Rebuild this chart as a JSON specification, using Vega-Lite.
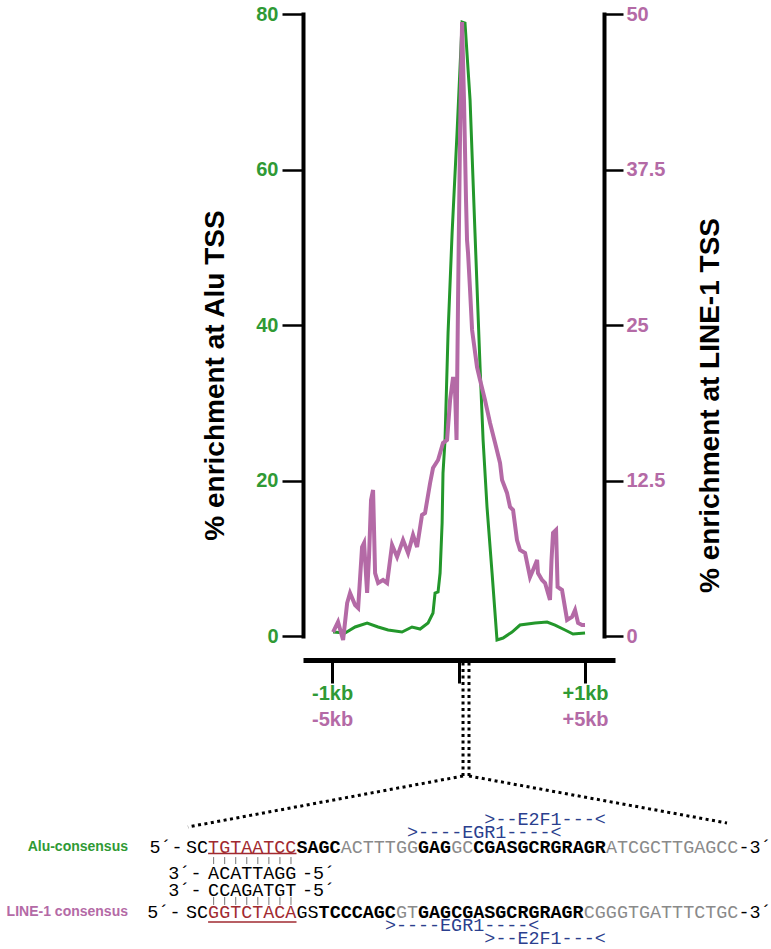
{
  "$schema": "https://vega.github.io/schema/vega-lite/v6.json",
  "width": 312,
  "height": 622,
  "autosize": {"type": "none"},
  "padding": {"left": 303, "top": 14, "right": 156, "bottom": 313},
  "background": "white",
  "config": {"view": {"stroke": null}, "font": "Liberation Sans"},
  "datasets": {
    "alu": [
      {"kb": -0.992, "v": 0.51}, {"kb": -0.897, "v": 0.39}, {"kb": -0.818, "v": 1.16}, {"kb": -0.723, "v": 1.67},
      {"kb": -0.636, "v": 1.16}, {"kb": -0.557, "v": 0.77}, {"kb": -0.447, "v": 0.51}, {"kb": -0.368, "v": 1.16},
      {"kb": -0.304, "v": 0.9}, {"kb": -0.241, "v": 1.67}, {"kb": -0.202, "v": 2.96}, {"kb": -0.186, "v": 5.53},
      {"kb": -0.162, "v": 5.66}, {"kb": -0.146, "v": 8.1}, {"kb": -0.13, "v": 14.53}, {"kb": -0.123, "v": 20.96},
      {"kb": -0.107, "v": 25.21}, {"kb": -0.083, "v": 38.97}, {"kb": -0.051, "v": 51.83}, {"kb": -0.012, "v": 64.69},
      {"kb": 0.028, "v": 78.97}, {"kb": 0.051, "v": 78.84}, {"kb": 0.091, "v": 68.94}, {"kb": 0.13, "v": 51.83},
      {"kb": 0.17, "v": 34.6}, {"kb": 0.194, "v": 25.21}, {"kb": 0.225, "v": 16.59}, {"kb": 0.265, "v": 8.1},
      {"kb": 0.304, "v": -0.51}, {"kb": 0.352, "v": -0.26}, {"kb": 0.423, "v": 0.51}, {"kb": 0.486, "v": 1.41},
      {"kb": 0.605, "v": 1.67}, {"kb": 0.7, "v": 1.8}, {"kb": 0.763, "v": 1.41}, {"kb": 0.842, "v": 0.77},
      {"kb": 0.905, "v": 0.26}, {"kb": 1.0, "v": 0.39}
    ],
    "line1": [
      {"kb": -0.992, "v": 0.32}, {"kb": -0.953, "v": 1.13}, {"kb": -0.913, "v": -0.32}, {"kb": -0.881, "v": 2.65},
      {"kb": -0.858, "v": 3.46}, {"kb": -0.818, "v": 2.49}, {"kb": -0.794, "v": 2.25}, {"kb": -0.763, "v": 7.15},
      {"kb": -0.747, "v": 7.48}, {"kb": -0.723, "v": 3.46}, {"kb": -0.708, "v": 6.35}, {"kb": -0.692, "v": 10.93},
      {"kb": -0.676, "v": 11.74}, {"kb": -0.66, "v": 5.06}, {"kb": -0.636, "v": 4.26}, {"kb": -0.597, "v": 4.5},
      {"kb": -0.565, "v": 4.26}, {"kb": -0.526, "v": 7.32}, {"kb": -0.486, "v": 6.35}, {"kb": -0.439, "v": 7.72},
      {"kb": -0.399, "v": 6.67}, {"kb": -0.36, "v": 8.12}, {"kb": -0.328, "v": 7.15}, {"kb": -0.289, "v": 9.73},
      {"kb": -0.265, "v": 9.89}, {"kb": -0.225, "v": 12.3}, {"kb": -0.202, "v": 13.5}, {"kb": -0.162, "v": 14.15},
      {"kb": -0.146, "v": 14.71}, {"kb": -0.123, "v": 15.51}, {"kb": -0.091, "v": 15.76}, {"kb": -0.067, "v": 18.97},
      {"kb": -0.043, "v": 20.82}, {"kb": -0.028, "v": 19.77}, {"kb": -0.016, "v": 15.76}, {"kb": -0.004, "v": 27.01},
      {"kb": 0.012, "v": 40.43}, {"kb": 0.028, "v": 49.36}, {"kb": 0.043, "v": 43.09}, {"kb": 0.059, "v": 35.05},
      {"kb": 0.067, "v": 31.83}, {"kb": 0.075, "v": 30.79}, {"kb": 0.091, "v": 27.81}, {"kb": 0.107, "v": 24.6},
      {"kb": 0.146, "v": 21.62}, {"kb": 0.17, "v": 20.58}, {"kb": 0.209, "v": 18.97}, {"kb": 0.249, "v": 17.12},
      {"kb": 0.289, "v": 15.51}, {"kb": 0.328, "v": 13.91}, {"kb": 0.344, "v": 12.54}, {"kb": 0.383, "v": 11.5},
      {"kb": 0.407, "v": 10.37}, {"kb": 0.431, "v": 10.13}, {"kb": 0.462, "v": 7.72}, {"kb": 0.486, "v": 6.91},
      {"kb": 0.526, "v": 6.67}, {"kb": 0.565, "v": 4.74}, {"kb": 0.589, "v": 5.31}, {"kb": 0.621, "v": 6.11},
      {"kb": 0.628, "v": 5.06}, {"kb": 0.66, "v": 4.5}, {"kb": 0.684, "v": 4.26}, {"kb": 0.723, "v": 2.89},
      {"kb": 0.735, "v": 6.11}, {"kb": 0.747, "v": 8.28}, {"kb": 0.771, "v": 8.52}, {"kb": 0.783, "v": 3.94},
      {"kb": 0.818, "v": 3.7}, {"kb": 0.858, "v": 1.29}, {"kb": 0.897, "v": 1.53}, {"kb": 0.921, "v": 2.09},
      {"kb": 0.945, "v": 1.05}, {"kb": 0.976, "v": 0.88}, {"kb": 1.0, "v": 0.88}
    ],
    "seq": [
      {"col": -3.3, "row": 2.04, "t": "5´-", "s": "n"},
      {"col": 0, "row": 2.04, "t": "SC", "s": "n"},
      {"col": 2, "row": 2.04, "t": "TGTAATCC", "s": "r"},
      {"col": 10, "row": 2.04, "t": "SAGC", "s": "b"},
      {"col": 14, "row": 2.04, "t": "ACTTTGG", "s": "g"},
      {"col": 21, "row": 2.04, "t": "GAG", "s": "b"},
      {"col": 24, "row": 2.04, "t": "GC", "s": "g"},
      {"col": 26, "row": 2.04, "t": "CGASGCRGRAGR", "s": "b"},
      {"col": 38, "row": 2.04, "t": "ATCGCTTGAGCC", "s": "g"},
      {"col": 50, "row": 2.04, "t": "-3´", "s": "n"},
      {"col": -1.6, "row": 3.93, "t": "3´-", "s": "n"},
      {"col": 2, "row": 3.93, "t": "ACATTAGG", "s": "n"},
      {"col": 10.5, "row": 3.93, "t": "-5´", "s": "n"},
      {"col": -1.6, "row": 5.14, "t": "3´-", "s": "n"},
      {"col": 2, "row": 5.14, "t": "CCAGATGT", "s": "n"},
      {"col": 10.5, "row": 5.14, "t": "-5´", "s": "n"},
      {"col": -3.5, "row": 6.71, "t": "5´-", "s": "n"},
      {"col": 0, "row": 6.71, "t": "SC", "s": "n"},
      {"col": 2, "row": 6.71, "t": "GGTCTACA", "s": "r"},
      {"col": 10, "row": 6.71, "t": "GS", "s": "n"},
      {"col": 12, "row": 6.71, "t": "TCCCAGC", "s": "b"},
      {"col": 19, "row": 6.71, "t": "GT", "s": "g"},
      {"col": 21, "row": 6.71, "t": "GAGCGASGCRGRAGR", "s": "b"},
      {"col": 36, "row": 6.71, "t": "CGGGTGATTTCTGC", "s": "g"},
      {"col": 50, "row": 6.71, "t": "-3´", "s": "n"},
      {"col": 27, "row": 0.07, "t": ">--E2F1---<", "s": "blue"},
      {"col": 20, "row": 1.0, "t": ">----EGR1----<", "s": "blue"},
      {"col": 18, "row": 7.64, "t": ">----EGR1----<", "s": "blue"},
      {"col": 27, "row": 8.57, "t": ">--E2F1---<", "s": "blue"},
      {"col": -5.25, "row": 2.04, "t": "Alu-consensus", "s": "alu"},
      {"col": -5.25, "row": 6.71, "t": "LINE-1 consensus", "s": "l1"}
    ],
    "ticks": [
      {"x": 2.5, "y": 2.79, "y2": 3.29}, {"x": 3.5, "y": 2.79, "y2": 3.29}, {"x": 4.5, "y": 2.79, "y2": 3.29}, {"x": 5.5, "y": 2.79, "y2": 3.29},
      {"x": 6.5, "y": 2.79, "y2": 3.29}, {"x": 7.5, "y": 2.79, "y2": 3.29}, {"x": 8.5, "y": 2.79, "y2": 3.29}, {"x": 9.5, "y": 2.79, "y2": 3.29},
      {"x": 2.5, "y": 5.64, "y2": 6.21}, {"x": 3.5, "y": 5.64, "y2": 6.21}, {"x": 4.5, "y": 5.64, "y2": 6.21}, {"x": 5.5, "y": 5.64, "y2": 6.21},
      {"x": 6.5, "y": 5.64, "y2": 6.21}, {"x": 7.5, "y": 5.64, "y2": 6.21}, {"x": 8.5, "y": 5.64, "y2": 6.21}, {"x": 9.5, "y": 5.64, "y2": 6.21}
    ],
    "uline": [
      {"x": 2, "x2": 10, "y": 2.54},
      {"x": 2, "x2": 10, "y": 7.43}
    ],
    "dots": [
      {"x": 25.07, "y": -11.1, "x2": 25.07, "y2": -3.0},
      {"x": 25.61, "y": -11.1, "x2": 25.61, "y2": -3.0},
      {"x": 25.07, "y": -3.0, "x2": 0.18, "y2": 0.64},
      {"x": 25.61, "y": -3.0, "x2": 48.96, "y2": 0.36}
    ]
  },
  "layer": [
    {
      "data": {"name": "alu"},
      "mark": {"type": "line", "color": "#23972b", "strokeWidth": 3},
      "encoding": {
        "x": {
          "field": "kb", "type": "quantitative",
          "scale": {"domain": [-1.23, 1.237], "nice": false, "zero": false},
          "axis": {
            "orient": "bottom", "offset": 24, "values": [-1, 0, 1],
            "labelExpr": "datum.value == -1 ? '-1kb' : (datum.value == 1 ? '+1kb' : '')",
            "title": null, "grid": false, "domainColor": "black", "domainWidth": 5, "domainCap": "butt",
            "tickColor": "black", "tickWidth": 3, "tickSize": 23,
            "labelColor": "#2f9a35", "labelFont": "Liberation Sans", "labelFontWeight": "bold", "labelFontSize": 20,
            "labelPadding": 0, "labelFlush": false, "labelOverlap": false
          }
        },
        "y": {
          "field": "v", "type": "quantitative",
          "scale": {"domain": [0, 80], "nice": false, "zero": false},
          "axis": {
            "orient": "left", "values": [0, 20, 40, 60, 80], "grid": false,
            "domainColor": "black", "domainWidth": 4, "domainCap": "square",
            "tickColor": "black", "tickWidth": 2.5, "tickSize": 21,
            "labelColor": "#2f9a35", "labelFont": "Liberation Sans", "labelFontWeight": "bold", "labelFontSize": 20,
            "labelPadding": 4, "labelFlush": false, "labelOverlap": false,
            "title": "% enrichment at Alu TSS", "titleFont": "Liberation Sans", "titleFontSize": 28, "titleFontWeight": "bold",
            "titleColor": "black", "titleAngle": -90, "titleBaseline": "alphabetic", "titleAlign": "center",
            "titleX": -80, "titleY": 361
          }
        }
      }
    },
    {
      "data": {"name": "line1"},
      "mark": {"type": "line", "color": "#b46aa6", "strokeWidth": 4},
      "encoding": {
        "x": {
          "field": "kb", "type": "quantitative",
          "scale": {"domain": [-1.23, 1.237], "nice": false, "zero": false},
          "axis": {
            "orient": "bottom", "offset": 24, "values": [-1, 1],
            "labelExpr": "datum.value == -1 ? '-5kb' : '+5kb'",
            "title": null, "grid": false, "domain": false,
            "tickOpacity": 0, "tickSize": 23,
            "labelColor": "#b46aa6", "labelFont": "Liberation Sans", "labelFontWeight": "bold", "labelFontSize": 20,
            "labelPadding": 26, "labelFlush": false, "labelOverlap": false
          }
        },
        "y": {
          "field": "v", "type": "quantitative",
          "scale": {"domain": [0, 50], "nice": false, "zero": false},
          "axis": {
            "orient": "right", "offset": -11, "values": [0, 12.5, 25, 37.5, 50], "grid": false,
            "labelExpr": "'' + datum.value",
            "domainColor": "black", "domainWidth": 4, "domainCap": "square",
            "tickColor": "black", "tickWidth": 2.5, "tickSize": 19,
            "labelColor": "#b46aa6", "labelFont": "Liberation Sans", "labelFontWeight": "bold", "labelFontSize": 20,
            "labelPadding": 3, "labelFlush": false, "labelOverlap": false,
            "title": "% enrichment at LINE-1 TSS", "titleFont": "Liberation Sans", "titleFontSize": 28, "titleFontWeight": "bold",
            "titleColor": "black", "titleAngle": -90, "titleBaseline": "alphabetic", "titleAlign": "center",
            "titleX": 114, "titleY": 391
          }
        }
      }
    },
    {
      "layer": [
        {
          "data": {"name": "dots"},
          "mark": {"type": "rule", "color": "black", "strokeWidth": 3, "strokeDash": [3, 3.5]},
          "encoding": {
            "x": {"field": "x", "type": "quantitative", "scale": {"domain": [0, 50], "range": [-117, 435.5], "nice": false, "zero": false}, "axis": null},
            "y": {"field": "y", "type": "quantitative", "scale": {"domain": [0, 10], "range": [804, 944], "nice": false, "zero": false}, "axis": null},
            "x2": {"field": "x2"},
            "y2": {"field": "y2"}
          }
        },
        {
          "data": {"name": "ticks"},
          "mark": {"type": "rule", "color": "#777777", "strokeWidth": 1},
          "encoding": {
            "x": {"field": "x", "type": "quantitative", "axis": null},
            "y": {"field": "y", "type": "quantitative", "axis": null},
            "y2": {"field": "y2"}
          }
        },
        {
          "data": {"name": "uline"},
          "mark": {"type": "rule", "color": "#a12a30", "strokeWidth": 1.5},
          "encoding": {
            "x": {"field": "x", "type": "quantitative", "axis": null},
            "y": {"field": "y", "type": "quantitative", "axis": null},
            "x2": {"field": "x2"}
          }
        },
        {
          "data": {"name": "seq"},
          "transform": [{"filter": "datum.s === 'n'"}],
          "mark": {"type": "text", "font": "Liberation Mono", "fontSize": 18.4, "align": "left", "baseline": "middle", "color": "black"},
          "encoding": {
            "x": {"field": "col", "type": "quantitative", "axis": null},
            "y": {"field": "row", "type": "quantitative", "axis": null},
            "text": {"field": "t"}
          }
        },
        {
          "data": {"name": "seq"},
          "transform": [{"filter": "datum.s === 'b'"}],
          "mark": {"type": "text", "font": "Liberation Mono", "fontSize": 18.4, "fontWeight": "bold", "align": "left", "baseline": "middle", "color": "black"},
          "encoding": {
            "x": {"field": "col", "type": "quantitative", "axis": null},
            "y": {"field": "row", "type": "quantitative", "axis": null},
            "text": {"field": "t"}
          }
        },
        {
          "data": {"name": "seq"},
          "transform": [{"filter": "datum.s === 'g'"}],
          "mark": {"type": "text", "font": "Liberation Mono", "fontSize": 18.4, "align": "left", "baseline": "middle", "color": "#8a8a8a"},
          "encoding": {
            "x": {"field": "col", "type": "quantitative", "axis": null},
            "y": {"field": "row", "type": "quantitative", "axis": null},
            "text": {"field": "t"}
          }
        },
        {
          "data": {"name": "seq"},
          "transform": [{"filter": "datum.s === 'r'"}],
          "mark": {"type": "text", "font": "Liberation Mono", "fontSize": 18.4, "align": "left", "baseline": "middle", "color": "#a12a30"},
          "encoding": {
            "x": {"field": "col", "type": "quantitative", "axis": null},
            "y": {"field": "row", "type": "quantitative", "axis": null},
            "text": {"field": "t"}
          }
        },
        {
          "data": {"name": "seq"},
          "transform": [{"filter": "datum.s === 'blue'"}],
          "mark": {"type": "text", "font": "Liberation Mono", "fontSize": 18.4, "align": "left", "baseline": "middle", "color": "#2b3f8e"},
          "encoding": {
            "x": {"field": "col", "type": "quantitative", "axis": null},
            "y": {"field": "row", "type": "quantitative", "axis": null},
            "text": {"field": "t"}
          }
        },
        {
          "data": {"name": "seq"},
          "transform": [{"filter": "datum.s === 'alu'"}],
          "mark": {"type": "text", "font": "Liberation Sans", "fontSize": 14, "fontWeight": "bold", "align": "right", "baseline": "middle", "color": "#2f9a35"},
          "encoding": {
            "x": {"field": "col", "type": "quantitative", "axis": null},
            "y": {"field": "row", "type": "quantitative", "axis": null},
            "text": {"field": "t"}
          }
        },
        {
          "data": {"name": "seq"},
          "transform": [{"filter": "datum.s === 'l1'"}],
          "mark": {"type": "text", "font": "Liberation Sans", "fontSize": 14, "fontWeight": "bold", "align": "right", "baseline": "middle", "color": "#b46aa6"},
          "encoding": {
            "x": {"field": "col", "type": "quantitative", "axis": null},
            "y": {"field": "row", "type": "quantitative", "axis": null},
            "text": {"field": "t"}
          }
        }
      ]
    }
  ],
  "resolve": {"scale": {"x": "independent", "y": "independent"}}
}
